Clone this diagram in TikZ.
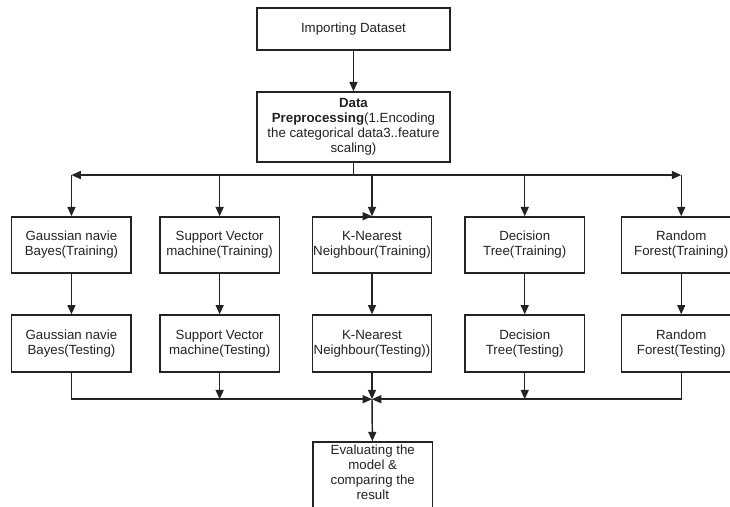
\documentclass[tikz,border=0pt]{standalone}
\usepackage{fontspec}
\setmainfont{Liberation Sans}
\usepackage{tikz}
\usetikzlibrary{arrows.meta,positioning,calc}
\definecolor{cdInk}{RGB}{35,35,35}

\begin{document}
\begin{tikzpicture}[
  font=\fontsize{10}{11.25}\selectfont,
  box/.style={draw=cdInk, line width=1.15pt, text=cdInk, align=center, inner sep=0pt, minimum width=3.16cm, minimum height=1.48cm},
  wide/.style={box, minimum width=5.11cm},
  arr/.style={-{Triangle[length=7pt,width=6pt]}, draw=cdInk, line width=1.1pt},
  wire/.style={draw=cdInk, line width=1.1pt}
]
\useasboundingbox (0,0) rectangle (19.31,-13.39);
\clip (0,0) rectangle (19.31,-13.39);
\fill[white] (0,0) rectangle (19.31,-13.39);

% Top stages
\node[wide, minimum height=1.11cm] (imp) at (9.35,-0.77) {Importing Dataset};
\node[wide, minimum height=1.85cm] (prep) at (9.35,-3.36) {\textbf{Data}\\\textbf{Preprocessing}(1.Encoding\\the categorical data3..feature\\scaling)};

% Training row
\node[box] (gnbA) at (1.89,-6.48) {Gaussian navie\\Bayes(Training)};
\node[box] (svmA) at (5.81,-6.48) {Support Vector\\machine(Training)};
\node[box] (knnA) at (9.84,-6.48) {K-Nearest\\Neighbour(Training)};
\node[box] (dtA) at (13.88,-6.48) {Decision\\Tree(Training)};
\node[box] (rfA) at (18.02,-6.48) {Random\\Forest(Training)};

% Testing row
\node[box, minimum height=1.51cm] (gnbB) at (1.89,-9.09) {Gaussian navie\\Bayes(Testing)};
\node[box, minimum height=1.51cm] (svmB) at (5.81,-9.09) {Support Vector\\machine(Testing)};
\node[box, minimum height=1.51cm] (knnB) at (9.84,-9.09) {K-Nearest\\Neighbour(Testing))};
\node[box, minimum height=1.51cm] (dtB) at (13.88,-9.09) {Decision\\Tree(Testing)};
\node[box, minimum height=1.51cm] (rfB) at (18.02,-9.09) {Random\\Forest(Testing)};

% Result
\node[box, anchor=north, minimum height=2cm, text depth=0.38cm] (eval) at (9.86,-11.67) {Evaluating the\\model \&\\comparing the\\result};

% Split and merge points
\coordinate (split) at (9.35,-4.63);
\coordinate (merge) at (9.84,-10.56);

% Arrows
\draw[arr] (imp) -- (prep);
\draw[wire] (prep) -- (split);
\draw[arr] (split) -- (split -| gnbA);
\draw[arr] (split) -- (split -| rfA);
\draw[arr] (split -| gnbA) -- (gnbA);
\draw[arr] (split -| svmA) -- (svmA);
\draw[arr] (split -| knnA) -- (knnA);
\draw[arr] (split -| dtA) -- (dtA);
\draw[arr] (split -| rfA) -- (rfA);
\draw[arr] ([xshift=-8pt]knnA.north) -- (knnA.north);

\draw[arr] (gnbA) -- (gnbB);
\draw[arr] (svmA) -- (svmB);
\draw[arr] (knnA) -- (knnB);
\draw[arr] (dtA) -- (dtB);
\draw[arr] (rfA) -- (rfB);

\draw[arr] (gnbB) |- (merge);
\draw[arr] (rfB) |- (merge);
\draw[arr] (svmB) -- (svmB |- merge);
\draw[arr] (dtB) -- (dtB |- merge);
\draw[arr] (knnB) -- (merge);
\draw[arr] (merge) -- (eval);

\end{tikzpicture}
\end{document}
